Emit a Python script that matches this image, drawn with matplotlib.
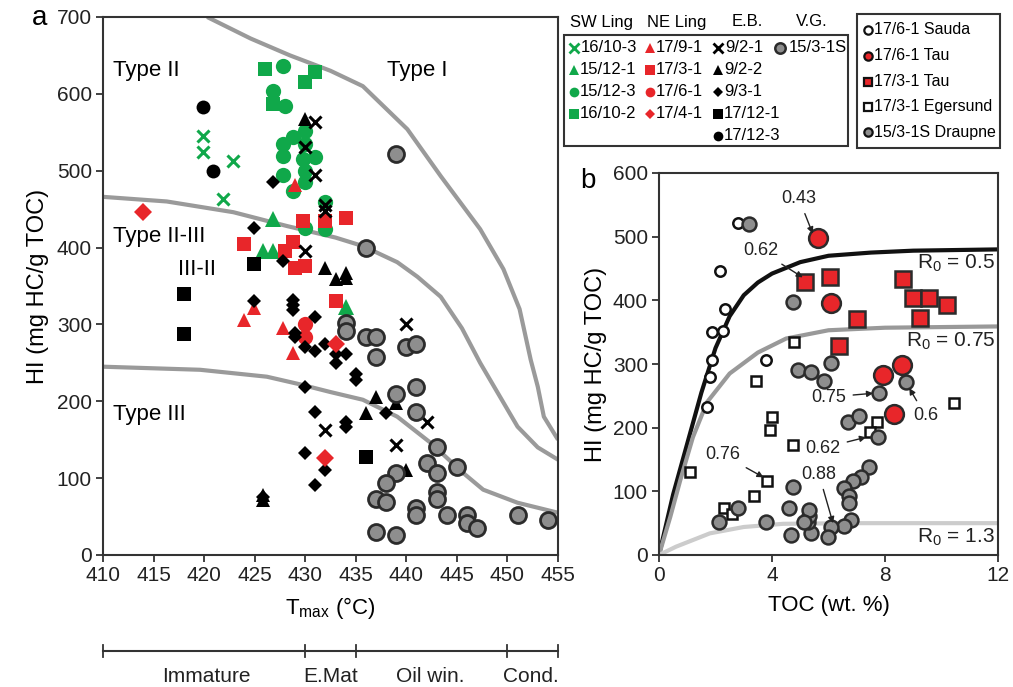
import matplotlib as mlp
mlp.use('Agg')
import matplotlib.pyplot as plt
from matplotlib.patches import Rectangle

plt.rcParams['font.family'] = ['Liberation Sans', 'DejaVu Sans']
plt.rcParams['mathtext.fontset'] = 'custom'
plt.rcParams['mathtext.rm'] = 'Liberation Sans'
plt.rcParams['axes.linewidth'] = 1.5

GREEN = '#10a84a'
RED = '#e8262a'
GRAY = '#8e8e8e'
EDGE = '#2b2b2b'
CURVE = '#9a9a9a'

#---------------------------------------------------------------------------------------------------
# panel a : HI vs Tmax
#---------------------------------------------------------------------------------------------------
# type boundaries
outer_T = [420.3, 424.6, 428.5, 432.5, 435.7, 440.1, 443.4, 447.3, 449.6, 451.2, 452.3, 453.0, 453.6, 455.0]
outer_HI = [700, 672, 650, 630, 610, 554, 493, 424, 372, 320, 254, 219, 180, 150]
mid_T = [410.0, 416.3, 422.9, 428.2, 433.0, 435.7, 439.1, 441.1, 443.4, 445.5, 447.3, 451.0, 453.0, 455.0]
mid_HI = [466, 460, 446, 428, 413, 402, 381, 362, 336, 295, 250, 167, 140, 124]
low_T = [410.0, 419.6, 426.2, 429.5, 432.5, 435.7, 439.1, 442.4, 445.6, 447.6, 451.0, 455.0]
low_HI = [245, 241, 232, 222, 212, 202, 180, 146, 107, 85, 68, 55]

# SW Ling (green)
sw103_T = [419.9, 419.9, 422.9, 421.9]                       # 16/10-3
sw103_HI = [545, 524, 512, 463]
sw121_T = [426.8, 425.8, 426.8, 434.0]                       # 15/12-1
sw121_HI = [437, 395, 395, 323]
sw123_T = [427.8, 426.8, 428.0, 427.8, 428.8, 430.0, 430.0, 427.8, 429.8, 431.0,
           430.0, 427.8, 428.8, 430.0, 432.0, 432.0, 430.0]  # 15/12-3
sw123_HI = [636, 604, 584, 535, 544, 552, 535, 519, 515, 518,
            500, 495, 473, 485, 459, 424, 425]
sw102_T = [426.0, 431.0, 430.0, 426.8]                       # 16/10-2
sw102_HI = [632, 628, 615, 587]

# NE Ling (red)
ne91_T = [429.0, 424.9, 423.9, 427.8, 428.8]                 # 17/9-1
ne91_HI = [482, 322, 306, 296, 263]
ne31_T = [423.9, 429.8, 432.0, 434.0, 428.8, 428.0, 429.0, 430.0, 433.0]   # 17/3-1
ne31_HI = [404, 434, 435, 439, 407, 395, 374, 376, 330]
ne61_T = [430.0, 430.0]                                      # 17/6-1
ne61_HI = [300, 283]
ne41_T = [414.0, 433.0, 432.0]                               # 17/4-1
ne41_HI = [446, 274, 126]

# E.B. (black)
eb921_T = [431, 430, 431, 432, 432, 430, 432, 440, 442, 439]  # 9/2-1
eb921_HI = [563, 531, 495, 456, 448, 395, 163, 300, 173, 143]
eb922_T = [430, 432, 433, 434, 434, 425.8, 425.8, 437, 436, 440, 439]   # 9/2-2
eb922_HI = [567, 374, 359, 367, 361, 72, 78, 206, 185, 111, 198]
eb931_T = [426.8, 424.9, 427.8, 424.9, 428.8, 428.8, 428.8, 431, 429, 429, 430, 431, 432, 433,
           434, 433, 435, 435, 430, 431, 430, 432, 431, 425.8, 434, 434, 438]   # 9/3-1
eb931_HI = [485, 426, 382, 330, 332, 325, 319, 310, 289, 283, 270, 265, 274, 261,
            261, 250, 235, 228, 218, 186, 133, 111, 91, 76, 173, 167, 185]
eb121_T = [424.9, 418.0, 418.0, 436.0]                       # 17/12-1
eb121_HI = [378, 339, 287, 128]
eb123_T = [419.9, 420.9]                                     # 17/12-3
eb123_HI = [583, 499]

# V.G. 15/3-1S
vg_T = [439, 436, 434, 434, 436, 437, 437, 440, 441, 441, 439, 441, 443, 442, 443, 445,
        439, 438, 437, 438, 441, 441, 443, 443, 444, 446, 446, 447, 451, 454, 437, 439]
vg_HI = [522, 400, 302, 291, 284, 283, 257, 271, 274, 219, 209, 186, 140, 120, 107, 115,
         107, 94, 73, 69, 61, 52, 82, 73, 52, 52, 42, 35, 52, 46, 30, 26]

#---------------------------------------------------------------------------------------------------
# panel b : HI vs TOC
#---------------------------------------------------------------------------------------------------
r05_toc = [0, 0.5, 1.0, 1.5, 2.0, 2.5, 3.0, 3.5, 4.0, 5.0, 6.0, 7.5, 9.0, 12.0]
r05_hi = [0, 95, 175, 255, 325, 375, 408, 428, 442, 460, 470, 475, 478, 480]
r075_toc = [0, 0.4, 0.75, 1.2, 1.7, 2.5, 3.5, 4.5, 6.0, 8.0, 12.0]
r075_hi = [0, 60, 117, 185, 240, 285, 318, 340, 353, 357, 359]
r13_toc = [0, 0.6, 1.8, 3.0, 4.4, 6.8, 12.0]
r13_hi = [0, 13, 34, 44, 49, 50, 50]

sauda_toc = [2.81, 2.17, 2.35, 1.89, 2.28, 1.89, 1.81, 1.71, 3.77]
sauda_hi = [522, 446, 387, 350, 352, 306, 279, 232, 306]
draupne_toc = [3.17, 4.73, 4.91, 5.37, 5.84, 6.09, 7.79, 8.75, 6.69, 7.08, 7.76, 7.44, 7.15, 6.87,
               6.55, 6.73, 6.73, 6.80, 6.55, 6.09, 5.98, 5.37, 5.27, 5.30, 5.30, 5.12, 4.66, 4.59,
               4.73, 3.77, 2.78, 2.14]
draupne_hi = [520, 398, 291, 287, 274, 302, 255, 271, 209, 218, 186, 138, 122, 116,
              106, 92, 81, 55, 45, 44, 28, 35, 52, 62, 70, 52, 31, 74,
              107, 52, 74, 52]
eger_toc = [4.77, 3.42, 3.99, 3.92, 4.73, 1.10, 3.84, 3.35, 2.31, 2.60, 7.72, 7.47, 10.43]
eger_hi = [335, 274, 217, 197, 172, 130, 117, 92, 74, 65, 209, 193, 238]
tau61_toc = [5.62, 6.09, 7.94, 8.61, 8.33]
tau61_hi = [498, 396, 282, 299, 221]
tau31_toc = [5.16, 6.05, 7.01, 6.37, 8.65, 9.00, 9.54, 10.21, 9.25]
tau31_hi = [429, 436, 371, 329, 433, 403, 404, 393, 373]

ro_labels = ['0.43', '0.62', '0.75', '0.6', '0.62', '0.76', '0.88']
ro_text_toc = [4.95, 3.59, 6.01, 9.43, 5.80, 2.24, 5.66]
ro_text_hi = [560, 478, 248, 219, 168, 158, 127]
ro_head_toc = [5.44, 5.09, 7.58, 8.86, 7.33, 3.70, 6.16]
ro_head_hi = [505, 436, 254, 262, 185, 122, 50]

#===================================================================================================
fig = plt.figure(figsize=(10.13, 6.87), dpi=100)
W, H = 1013., 687.

def add_px_axes(x0, y0, x1, y1):
    return fig.add_axes([x0/W, 1-y1/H, (x1-x0)/W, (y1-y0)/H])

def pts(ax, x, y, marker, fc, ms, ec=None, mew=0.0, z=3):
    ax.plot(x, y, ls='none', marker=marker, ms=ms, mfc=fc, mec=ec if ec else fc, mew=mew, zorder=z)

def style_axes(ax):
    for s in ax.spines.values():
        s.set_color('#333333')
    ax.tick_params(direction='out', length=5, width=1.3, colors='#333333', labelsize=15,
                   labelcolor='#222222', pad=3)

# ---------------- panel a
ax1 = add_px_axes(103, 17, 558, 555)
ax1.set_xlim(410, 455)
ax1.set_ylim(0, 700)
ax1.set_xticks(range(410, 456, 5))
ax1.set_yticks(range(0, 701, 100))
style_axes(ax1)

for T, HI in [(outer_T, outer_HI), (mid_T, mid_HI), (low_T, low_HI)]:
    ax1.plot(T, HI, color=CURVE, lw=3, zorder=2, solid_capstyle='butt')

pts(ax1, sw121_T, sw121_HI, '^', GREEN, 11)
pts(ax1, sw123_T, sw123_HI, 'o', GREEN, 11)
pts(ax1, sw102_T, sw102_HI, 's', GREEN, 10)
pts(ax1, sw103_T, sw103_HI, 'x', GREEN, 9, mew=2.2)
pts(ax1, ne91_T, ne91_HI, '^', RED, 10)
pts(ax1, ne31_T, ne31_HI, 's', RED, 10)
pts(ax1, ne61_T, ne61_HI, 'o', RED, 11)
pts(ax1, eb922_T, eb922_HI, '^', 'black', 10)
pts(ax1, eb931_T, eb931_HI, 'D', 'black', 7.5)
pts(ax1, eb121_T, eb121_HI, 's', 'black', 10)
pts(ax1, eb123_T, eb123_HI, 'o', 'black', 10)
pts(ax1, eb921_T, eb921_HI, 'x', 'black', 9, mew=2.2, z=4)
pts(ax1, ne41_T, ne41_HI, 'D', RED, 9, z=4)
pts(ax1, vg_T, vg_HI, 'o', GRAY, 11.5, ec=EDGE, mew=2.0, z=4)

ax1.text(411, 631, 'Type II', fontsize=16, va='center')
ax1.text(438.1, 631, 'Type I', fontsize=16, va='center')
ax1.text(411, 414, 'Type II-III', fontsize=16, va='center')
ax1.text(417.4, 372, 'III-II', fontsize=16, va='center')
ax1.text(411, 183, 'Type III', fontsize=16, va='center')

ax1.set_ylabel('HI (mg HC/g TOC)', fontsize=17)
ax1.yaxis.set_label_coords(-0.118, 0.5)
ax1.set_xlabel(r'T$_{\rm max}$ (°C)', fontsize=16)
ax1.xaxis.set_label_coords(0.5, -0.075)
ax1.xaxis.label.set_va('top')

# maturity bar under panel a
tr = ax1.get_xaxis_transform()
ybar = -0.178
ax1.plot([410, 455], [ybar, ybar], color='#333333', lw=1.5, transform=tr, clip_on=False)
for t in [410, 430, 435, 450, 455]:
    ax1.plot([t, t], [ybar-0.011, ybar+0.011], color='#333333', lw=1.3, transform=tr, clip_on=False)
for t, lab in [(420.2, 'Immature'), (432.5, 'E.Mat'), (442.4, 'Oil win.'), (452.3, 'Cond.')]:
    ax1.text(t, -0.226, lab, fontsize=15, ha='center', va='center', transform=tr, color='#222222')

# ---------------- panel b
ax2 = add_px_axes(659, 173, 998, 555)
ax2.set_xlim(0, 12)
ax2.set_ylim(0, 600)
ax2.set_xticks([0, 4, 8, 12])
ax2.set_yticks(range(0, 601, 100))
style_axes(ax2)

ax2.plot(r05_toc, r05_hi, color='#111111', lw=3, zorder=2)
ax2.plot(r075_toc, r075_hi, color='#999999', lw=3, zorder=2)
ax2.plot(r13_toc, r13_hi, color='#cccccc', lw=3, zorder=2)

pts(ax2, eger_toc, eger_hi, 's', 'white', 7, ec='#111111', mew=1.8)
pts(ax2, sauda_toc, sauda_hi, 'o', 'white', 7.5, ec='#111111', mew=1.8)
pts(ax2, draupne_toc, draupne_hi, 'o', GRAY, 10, ec=EDGE, mew=1.8)
pts(ax2, tau31_toc, tau31_hi, 's', RED, 11, ec=EDGE, mew=1.8)
pts(ax2, tau61_toc, tau61_hi, 'o', RED, 13.5, ec=EDGE, mew=1.8)

for lab, tx, ty, hx, hy in zip(ro_labels, ro_text_toc, ro_text_hi, ro_head_toc, ro_head_hi):
    ax2.annotate(lab, xy=(hx, hy), xytext=(tx, ty), fontsize=13, ha='center', va='center',
                 color='#222222', zorder=6,
                 arrowprops=dict(arrowstyle='-|>', color='#222222', lw=1.0, mutation_scale=9,
                                 shrinkA=3, shrinkB=0))

ax2.text(11.9, 459, r'R$_0$ = 0.5', fontsize=15, ha='right', va='center', color='#222222')
ax2.text(11.9, 336, r'R$_0$ = 0.75', fontsize=15, ha='right', va='center', color='#222222')
ax2.text(11.9, 28, r'R$_0$ = 1.3', fontsize=15, ha='right', va='center', color='#222222')

ax2.set_ylabel('HI (mg HC/g TOC)', fontsize=17)
ax2.yaxis.set_label_coords(-0.152, 0.5)
ax2.set_xlabel('TOC (wt. %)', fontsize=16)
ax2.xaxis.set_label_coords(0.5, -0.105)
ax2.xaxis.label.set_va('top')

fig.text(40/W, 1-18/H, 'a', fontsize=20, ha='center', va='center')
fig.text(588/W, 1-181/H, 'b', fontsize=20, ha='center', va='center')

# ---------------- legends (pixel overlay)
lay = fig.add_axes([0, 0, 1, 1], facecolor='none')
lay.set_xlim(0, W)
lay.set_ylim(H, 0)
lay.axis('off')

lay.add_patch(Rectangle((564, 35), 284, 111, fill=False, ec='#333333', lw=1.5))
for xh, lab in [(602, 'SW Ling'), (677, 'NE Ling'), (747, 'E.B.'), (812, 'V.G.')]:
    lay.text(xh, 22, lab, fontsize=12, ha='center', va='center')

rows = [48, 70, 92, 114, 136]
leg_cols = [
    (574, GREEN, [('x', '16/10-3'), ('^', '15/12-1'), ('o', '15/12-3'), ('s', '16/10-2')]),
    (650, RED, [('^', '17/9-1'), ('s', '17/3-1'), ('o', '17/6-1'), ('D', '17/4-1')]),
    (718, 'black', [('x', '9/2-1'), ('^', '9/2-2'), ('D', '9/3-1'), ('s', '17/12-1'), ('o', '17/12-3')]),
]
for xm, col, items in leg_cols:
    for yr, (mk, lab) in zip(rows, items):
        size = {'x': 7, '^': 7, 'o': 7, 's': 7, 'D': 5}[mk]
        pts(lay, [xm], [yr], mk, col, size, mew=2.0 if mk == 'x' else 0)
        lay.text(xm + 6 if mk != 'x' else xm + 7, yr, lab, fontsize=12, va='center')
pts(lay, [780], [48], 'o', GRAY, 7.5, ec=EDGE, mew=1.8)
lay.text(789, 48, '15/3-1S', fontsize=12, va='center')

lay.add_patch(Rectangle((857, 14), 143, 134, fill=False, ec='#333333', lw=1.5))
rows2 = [30, 56, 82, 107, 132]
leg2 = [('o', 'white', '17/6-1 Sauda'), ('o', RED, '17/6-1 Tau'), ('s', RED, '17/3-1 Tau'),
        ('s', 'white', '17/3-1 Egersund'), ('o', GRAY, '15/3-1S Draupne')]
for yr, (mk, fc, lab) in zip(rows2, leg2):
    pts(lay, [868], [yr], mk, fc, 6, ec='#111111', mew=1.6)
    lay.text(874, yr, lab, fontsize=11.5, va='center')

plt.savefig('out.png', dpi=100)
